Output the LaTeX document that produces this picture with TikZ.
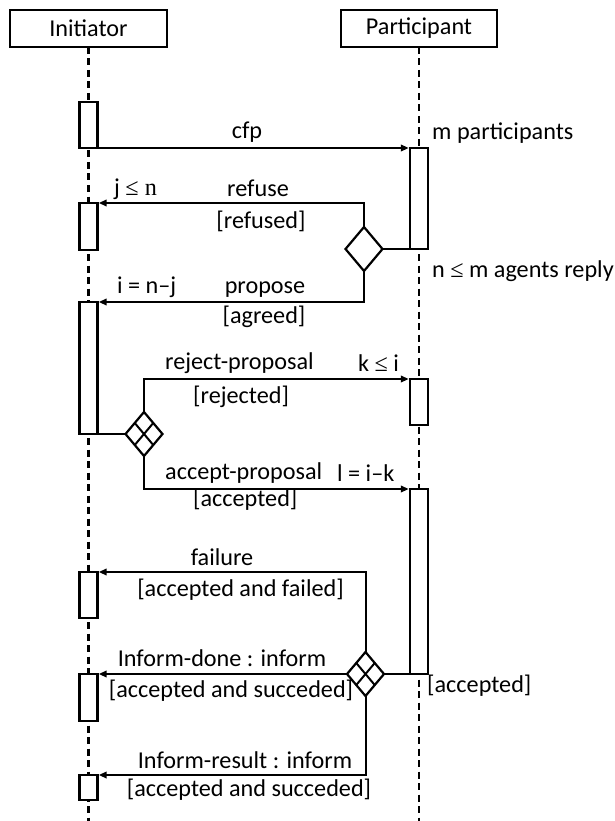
\documentclass[tikz,border=0pt]{standalone}
\usepackage{fontspec}
\setmainfont{Carlito}
\newfontfamily\relfont{Liberation Serif}
\usetikzlibrary{shapes.geometric,arrows.meta,calc}

\tikzset{
  headbox/.style={draw, line width=2.4pt, outer sep=0pt, minimum width=157pt, minimum height=37pt, inner sep=0pt},
  actbox/.style={draw, fill=white, line width=2.4pt, outer sep=0pt, minimum width=18pt, inner sep=0pt},
  lifeline/.style={line width=2.2pt, dash pattern=on 7pt off 4.5pt},
  msg/.style={line width=2pt, shorten >=1.2pt, -{Triangle[length=8pt,width=6.5pt]}},
  link/.style={line width=2pt},
  choice/.style={diamond, draw, fill=white, line width=2.2pt, outer sep=0pt, inner sep=0pt, minimum width=37pt, minimum height=44pt},
  lbl/.style={inner sep=0pt, font=\fontsize{24.2}{29}\selectfont},
}

\newcommand{\splitchoice}[1]{%
  \draw[line width=2pt] ($(#1.north)!0.5!(#1.west)$) -- ($(#1.south)!0.5!(#1.east)$);
  \draw[line width=2pt] ($(#1.north)!0.5!(#1.east)$) -- ($(#1.south)!0.5!(#1.west)$);
}

\begin{document}
\begin{tikzpicture}[x={(1pt,0)}, y={(0,-1pt)}]
\useasboundingbox[fill=white] (0,0) rectangle (614,821);

% role headers
\node[headbox, lbl] (init) at (88.5,28.5) {Initiator};
\node[headbox, lbl, minimum width=156pt] (part) at (419,28.5) {Participant};
\coordinate (initend) at (88.5,821);
\coordinate (partend) at (419,821);

% lifelines
\draw[lifeline] (init.south) -- (initend);
\draw[lifeline] (part.south) -- (partend);

% activation bars of the initiator
\node[actbox, minimum height=46pt] (ia1) at (88.5,125) {};
\node[actbox, minimum height=47pt] (ia2) at (88.5,226.5) {};
\node[actbox, minimum height=132pt] (ia3) at (88.5,368) {};
\node[actbox, minimum height=46pt] (ia4) at (88.5,595) {};
\node[actbox, minimum height=47pt] (ia5) at (88.5,697.5) {};
\node[actbox, minimum height=25pt] (ia6) at (88.5,787.5) {};

% activation bars of the participant
\node[actbox, minimum height=101pt] (pa1) at (419,198.5) {};
\node[actbox, minimum height=46pt] (pa2) at (419,402) {};
\node[actbox, minimum height=185pt] (pa3) at (419,581.5) {};

% decision points
\node[choice] (d1) at (364,249) {};
\node[choice] (d2) at (144,434) {};
\node[choice] (d3) at (365.5,674) {};
\splitchoice{d2}
\splitchoice{d3}

% messages
\draw[msg] (ia1.south east) -- (pa1.north west);
\draw[link] (pa1.south west) -- (d1.east);
\draw[msg] (d1.north) |- (ia2.north east);
\draw[msg] (d1.south) |- (ia3.north east);
\draw[link] (ia3.south east) -- (d2.west);
\draw[msg] (d2.north) |- (pa2.north west);
\draw[msg] (d2.south) |- (pa3.north west);
\draw[link] (pa3.south west) -- (d3.east);
\draw[msg] (d3.north) |- (ia4.north east);
\draw[msg] (d3.west) -- (ia5.north east);
\draw[msg] (d3.south) |- (ia6.north east);

% message labels and guards
\node[lbl] (tcfp) at (247,132) {cfp};
\node[lbl, anchor=west] (tm) at (432,133) {m participants};
\node[lbl, anchor=west] (tj) at (114,189) {j {\relfont ≤ n}};
\node[lbl] (tref) at (258,188) {refuse};
\node[lbl] (trefd) at (261,221) {[refused]};
\node[lbl, anchor=west] (tn) at (432,271) {n {\relfont ≤} m agents reply};
\node[lbl, anchor=west] (ti) at (117,287) {i = n–j};
\node[lbl] (tprop) at (265,290) {propose};
\node[lbl] (tagr) at (264,317) {[agreed]};
\node[lbl, anchor=west] (trej) at (165,363) {reject-proposal};
\node[lbl, anchor=west] (tk) at (358,363) {k {\relfont ≤} i};
\node[lbl, anchor=west] (trejd) at (193,397) {[rejected]};
\node[lbl, anchor=west] (tacc) at (165,473) {accept-proposal};
\node[lbl, anchor=west] (tl) at (337,473) {l = i–k};
\node[lbl, anchor=west] (taccd) at (193,500) {[accepted]};
\node[lbl] (tfail) at (222,557) {failure};
\node[lbl] (tfaild) at (240.5,590) {[accepted and failed]};
\node[lbl] (tdone) at (222,658) {Inform-done : inform};
\node[lbl] (tdoned) at (231,691) {[accepted and succeded]};
\node[lbl, anchor=west] (tpacc) at (427,686) {[accepted]};
\node[lbl] (tres) at (245,760) {Inform-result : inform};
\node[lbl] (tresd) at (249,790) {[accepted and succeded]};
\end{tikzpicture}
\end{document}
